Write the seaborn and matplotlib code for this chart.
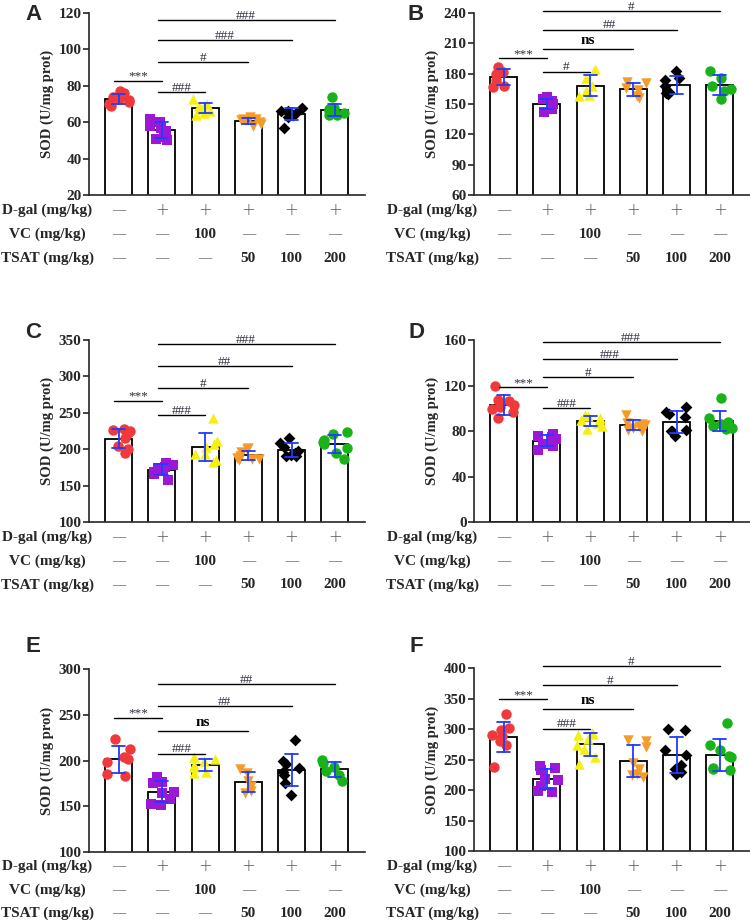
import numpy as np
import pandas as pd
import matplotlib
matplotlib.use("Agg")
import matplotlib.pyplot as plt
import seaborn as sns
from matplotlib.transforms import blended_transform_factory, offset_copy

# ---------------- data ----------------
groups = ["Control", "Model", "VC100", "TSAT50", "TSAT100", "TSAT200"]
dgal_row = ["\u2014", "+", "+", "+", "+", "+"]
vc_row = ["\u2014", "\u2014", "100", "\u2014", "\u2014", "\u2014"]
tsat_row = ["\u2014", "\u2014", "\u2014", "50", "100", "200"]
row_labels = ["D-gal (mg/kg)", "VC (mg/kg)", "TSAT (mg/kg)"]

panel_a = [
    [77, 76, 74, 73, 72, 71, 70, 69],
    [62, 60, 58, 57, 55, 51, 50, 52],
    [73, 70, 69, 68, 67, 66, 65, 64],
    [63, 62, 62, 61, 61, 60, 59, 58],
    [68, 67, 66, 66, 65, 64, 63, 57],
    [74, 68, 67, 66, 65, 65, 64, 64],
]
panel_b = [
    [187, 182, 180, 174, 168, 167],
    [157, 155, 153, 150, 148, 145, 142],
    [185, 176, 168, 163, 159, 158],
    [172, 171, 166, 164, 158, 156],
    [183, 176, 174, 168, 162, 160, 161],
    [183, 176, 168, 165, 163, 155],
]
panel_c = [
    [228, 226, 225, 222, 215, 205, 200, 195],
    [181, 178, 176, 174, 172, 168, 166, 158],
    [243, 211, 207, 203, 194, 193, 185, 183],
    [201, 200, 196, 191, 188, 187, 186, 185],
    [215, 208, 203, 198, 195, 192, 190, 190],
    [223, 221, 212, 210, 207, 201, 195, 186],
]
panel_d = [
    [120, 107, 106, 103, 101, 99, 97, 91],
    [77, 76, 75, 73, 71, 69, 67, 63],
    [94, 93, 91, 90, 89, 87, 84, 82],
    [94, 87, 86, 85, 84, 83, 81, 80],
    [101, 97, 95, 92, 81, 80, 80, 76],
    [109, 91, 88, 86, 85, 84, 83, 82],
]
panel_e = [
    [223, 213, 204, 202, 198, 185, 183],
    [182, 177, 175, 166, 164, 158, 153, 151],
    [204, 202, 199, 195, 193, 187, 186],
    [191, 186, 178, 172, 167, 164],
    [222, 199, 196, 192, 187, 184, 175, 162],
    [201, 197, 193, 188, 184, 178],
]
panel_f = [
    [324, 301, 299, 290, 288, 281, 273, 238],
    [240, 236, 232, 218, 216, 207, 199, 196],
    [294, 292, 290, 284, 273, 267, 254, 243],
    [282, 281, 270, 244, 234, 226, 224, 222],
    [300, 299, 265, 258, 241, 235, 230, 226],
    [310, 273, 265, 256, 254, 236, 234, 233],
]

# significance annotations: (from group, to group, level, label)
sig_a = [(0, 1, 82.7, "***"), (1, 2, 76.5, "###"), (1, 3, 93.2, "#"), (1, 4, 105, "###"), (1, 5, 116, "###")]
sig_b = [(0, 1, 195, "***"), (1, 2, 182, "#"), (1, 3, 204, "ns"), (1, 4, 223.5, "##"), (1, 5, 241.5, "#")]
sig_c = [(0, 1, 266.5, "***"), (1, 2, 247, "###"), (1, 3, 284.4, "#"), (1, 4, 314.2, "##"), (1, 5, 344, "###")]
sig_d = [(0, 1, 118.3, "***"), (1, 2, 99.8, "###"), (1, 3, 127.7, "#"), (1, 4, 143, "###"), (1, 5, 158.2, "###")]
sig_e = [(0, 1, 246.8, "***"), (1, 2, 207.6, "###"), (1, 3, 232.5, "ns"), (1, 4, 259.6, "##"), (1, 5, 283.5, "##")]
sig_f = [(0, 1, 348.7, "***"), (1, 2, 300.7, "###"), (1, 3, 332.7, "ns"), (1, 4, 372.4, "#"), (1, 5, 402.8, "#")]

yticks_a = [20, 40, 60, 80, 100, 120]
yticks_b = [60, 90, 120, 150, 180, 210, 240]
yticks_c = [100, 150, 200, 250, 300, 350]
yticks_d = [0, 40, 80, 120, 160]
yticks_e = [100, 150, 200, 250, 300]
yticks_f = [100, 150, 200, 250, 300, 350, 400]

# ---------------- style ----------------
colors = ["#f0393b", "#9b19d6", "#f5f00f", "#f59b2a", "#000000", "#19b219"]
markers = ["o", "s", "^", "v", "D", "o"]
msizes = [7.5, 7.5, 7.5, 7.5, 6.0, 7.5]
err_color = "#1f3cff"
sig_color = "#2e2e3e"

sns.set_theme(style="ticks")
plt.rcParams["font.family"] = ["Liberation Serif", "DejaVu Serif"]
plt.rcParams["axes.linewidth"] = 1.2

W, H = 750, 921
fig = plt.figure(figsize=(W / 100, H / 100), dpi=100)

layout = [
    ("A", panel_a, yticks_a, sig_a, 88.5, 13, 195, (210, 234, 258), 33, 14),
    ("B", panel_b, yticks_b, sig_b, 473.5, 13, 195, (210, 234, 258), 416, 14),
    ("C", panel_c, yticks_c, sig_c, 88.5, 340, 522, (537, 561, 585), 33, 333),
    ("D", panel_d, yticks_d, sig_d, 473.5, 340, 522, (537, 561, 585), 416, 333),
    ("E", panel_e, yticks_e, sig_e, 88.5, 669, 852, (866, 890, 913), 33, 647),
    ("F", panel_f, yticks_f, sig_f, 473.5, 668, 851, (866, 890, 913), 416, 646),
]
ax_w = 276.5
np.random.seed(3)

for letter, pdata, yt, sigs, left, top, bottom, rows_y, lx, ly in layout:
    ax = fig.add_axes([left / W, 1 - bottom / H, ax_w / W, (bottom - top) / H])
    recs = []
    for g, vals in zip(groups, pdata):
        for v in vals:
            recs.append((g, v))
    df = pd.DataFrame(recs, columns=["group", "value"])

    sns.barplot(data=df, x="group", y="value", order=groups, errorbar=None,
                color="white", edgecolor="black", linewidth=1.3, width=0.625,
                ax=ax, zorder=1)
    for i, g in enumerate(groups):
        sub = df[df["group"] == g]
        sns.stripplot(data=sub, x="group", y="value", order=groups,
                      color=colors[i], marker=markers[i], size=msizes[i],
                      linewidth=0, jitter=0.3, ax=ax, zorder=3)
    sns.barplot(data=df, x="group", y="value", order=groups, errorbar="sd",
                capsize=0.3, fill=False, linewidth=0, width=0.625,
                err_kws={"color": err_color, "linewidth": 1.3, "zorder": 5},
                ax=ax)

    ax.set_xlim(-0.7, 5.7)
    ax.set_ylim(yt[0], yt[-1])
    ax.set_yticks(yt)
    ax.set_yticklabels([str(t) for t in yt], fontsize=11, fontweight="bold")
    ax.set_xticks([])
    ax.set_xlabel("")
    ax.set_ylabel("SOD (U/mg prot)", fontsize=10.5, fontweight="bold", labelpad=3)
    ax.tick_params(axis="y", length=4, width=1.2, pad=1)
    sns.despine(ax=ax)

    tr_up = offset_copy(ax.transData, fig=fig, x=0, y=1.2, units="dots")
    for i, j, lvl, lab in sigs:
        ax.plot([i - 0.1, j], [lvl, lvl], color="black", lw=1.0, clip_on=False, zorder=6)
        if lab == "ns":
            ax.text((i - 0.1 + j) / 2, lvl, lab, ha="center", va="baseline",
                    fontsize=11, fontweight="bold", color="black", clip_on=False,
                    transform=offset_copy(ax.transData, fig=fig, x=0, y=5, units="dots"))
        else:
            ax.text((i - 0.1 + j) / 2, lvl, lab, ha="center", va="baseline",
                    fontsize=9.5, color=sig_color, clip_on=False, transform=tr_up)

    tr = blended_transform_factory(ax.transData, fig.transFigure)
    for label, entries, ry in zip(row_labels, [dgal_row, vc_row, tsat_row], rows_y):
        fig.text((left - 41) / W, 1 - ry / H, label, ha="center", va="center",
                 fontsize=11, fontweight="bold")
        for k, e in enumerate(entries):
            if e in ("+", "\u2014"):
                ax.text(k, 1 - ry / H, e, transform=tr, ha="center", va="center",
                        fontsize=12 if e == "+" else 9.5, color="#555555",
                        fontweight="light", clip_on=False,
                        family=["DejaVu Sans"] if e == "+" else ["Liberation Serif"])
            else:
                ax.text(k, 1 - ry / H, e, transform=tr, ha="center", va="center",
                        fontsize=11, fontweight="bold", clip_on=False)

    fig.text(lx / W, 1 - ly / H, letter, ha="center", va="center", fontsize=16,
             fontweight="bold", family=["Liberation Sans", "DejaVu Sans"])

fig.savefig("out.png", dpi=100)
